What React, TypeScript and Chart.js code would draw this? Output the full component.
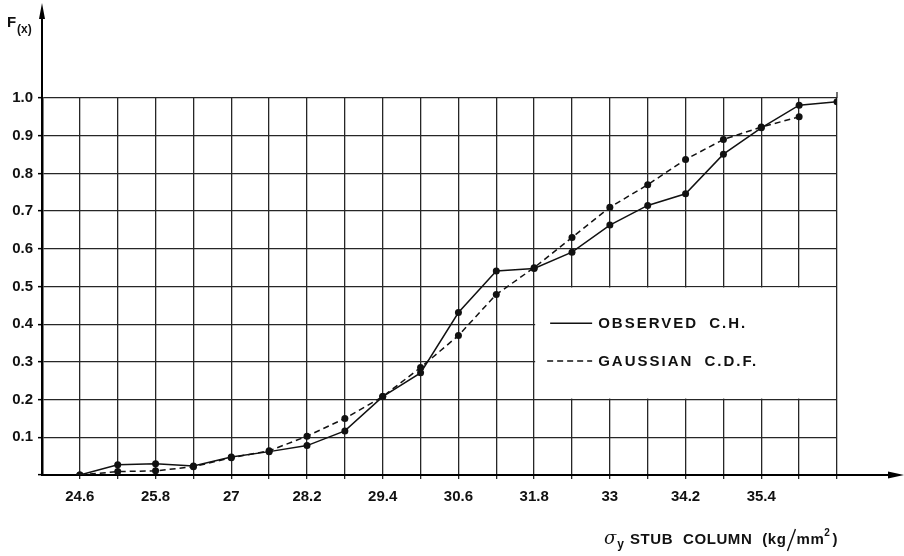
import React, { useEffect, useRef } from 'react';
import { Chart, registerables } from 'chart.js';

Chart.register(...registerables);

// Yield stress of stub columns (kg/mm²), one point per class boundary
const stressValues = [
  24.6, 25.2, 25.8, 26.4, 27.0, 27.6, 28.2, 28.8, 29.4, 30.0, 30.6,
  31.2, 31.8, 32.4, 33.0, 33.6, 34.2, 34.8, 35.4, 36.0, 36.6,
];

// Observed cumulative histogram
const observedCH = [
  0, 0.027, 0.03, 0.024, 0.048, 0.062, 0.078, 0.117, 0.208, 0.271, 0.431,
  0.541, 0.548, 0.591, 0.663, 0.715, 0.746, 0.851, 0.921, 0.981, 0.99,
];

// Fitted Gaussian cumulative distribution
const gaussianCDF = [
  0, 0.009, 0.011, 0.022, 0.046, 0.064, 0.103, 0.15, 0.208, 0.285, 0.37,
  0.479, 0.55, 0.63, 0.71, 0.77, 0.837, 0.89, 0.923, 0.95,
];

const xTickLabels = ['24.6', '25.8', '27', '28.2', '29.4', '30.6', '31.8', '33', '34.2', '35.4'];
const yTickLabels = ['0.1', '0.2', '0.3', '0.4', '0.5', '0.6', '0.7', '0.8', '0.9', '1.0'];
const seriesNames = ['OBSERVED C.H.', 'GAUSSIAN C.D.F.'];

const FONT = '"Liberation Sans", Arial, Helvetica, sans-serif';
const INK = '#111';
const GRID = '#262626';

const matchLabel = (labels: string[], value: number) =>
  labels.find((l) => Math.abs(parseFloat(l) - value) < 1e-6) ?? '';

const draftingPlugin = {
  id: 'drafting',
  beforeDatasetsDraw(chart: any) {
    // white panel that carries the key, cut out of the grid
    const { ctx, scales } = chart;
    const x = scales.x;
    const y = scales.y;
    const l = x.getPixelForValue(31.8) + 1;
    const r = x.getPixelForValue(36.6) - 1;
    const t = y.getPixelForValue(0.5) + 1;
    const b = y.getPixelForValue(0.2) - 1;
    ctx.save();
    ctx.fillStyle = '#fff';
    ctx.fillRect(l, t, r - l, b - t);
    ctx.restore();
  },
  afterDraw(chart: any) {
    const { ctx, chartArea, scales } = chart;
    const x = scales.x;
    const y = scales.y;
    const { left, right, top, bottom } = chartArea;
    ctx.save();

    // extended axes with arrow heads
    ctx.strokeStyle = '#000';
    ctx.fillStyle = '#000';
    ctx.lineWidth = 2;
    ctx.beginPath();
    ctx.moveTo(left, top);
    ctx.lineTo(left, 16);
    ctx.moveTo(right, bottom);
    ctx.lineTo(894, bottom);
    ctx.stroke();
    ctx.beginPath();
    ctx.moveTo(left, 3);
    ctx.lineTo(left - 3, 19);
    ctx.lineTo(left + 3, 19);
    ctx.closePath();
    ctx.fill();
    ctx.beginPath();
    ctx.moveTo(904, bottom);
    ctx.lineTo(888, bottom - 3.5);
    ctx.lineTo(888, bottom + 3.5);
    ctx.closePath();
    ctx.fill();

    // right frame line runs a little above the top line
    ctx.strokeStyle = GRID;
    ctx.lineWidth = 1.3;
    ctx.beginPath();
    ctx.moveTo(right, top);
    ctx.lineTo(right, top - 6);
    ctx.stroke();

    // y-axis name F(x)
    ctx.fillStyle = INK;
    ctx.textBaseline = 'alphabetic';
    ctx.textAlign = 'left';
    ctx.font = `bold 15px ${FONT}`;
    ctx.fillText('F', 7, 27);
    ctx.font = `bold 12px ${FONT}`;
    ctx.fillText('(x)', 17, 33);

    // key
    const kx = x.getPixelForValue(31.8) + 16;
    const ds = chart.data.datasets;
    const rows = [y.getPixelForValue(0.4) - 1, y.getPixelForValue(0.3) - 1];
    ds.forEach((d: any, i: number) => {
      const ry = rows[i];
      ctx.strokeStyle = INK;
      ctx.lineWidth = 1.5;
      ctx.setLineDash(d.borderDash || []);
      ctx.beginPath();
      ctx.moveTo(kx - (i ? 3 : 0), ry);
      ctx.lineTo(kx + 42, ry);
      ctx.stroke();
      ctx.setLineDash([]);
      ctx.font = `bold 15px ${FONT}`;
      (ctx as any).letterSpacing = '2px';
      (ctx as any).wordSpacing = '5px';
      ctx.textBaseline = 'middle';
      ctx.fillText(d.label, kx + 48, ry + 1);
      (ctx as any).letterSpacing = '0px';
      (ctx as any).wordSpacing = '0px';
    });

    // x-axis name: σy STUB COLUMN (kg/mm²)
    const base = 544;
    let cx = 604;
    ctx.textBaseline = 'alphabetic';
    ctx.font = `italic 18px "DejaVu Serif", "Liberation Serif", serif`;
    ctx.fillText('σ', cx, base);
    cx += ctx.measureText('σ').width + 1;
    ctx.font = `bold 12px ${FONT}`;
    ctx.fillText('y', cx, base + 4);
    cx += ctx.measureText('y').width + 6;
    ctx.font = `bold 15px ${FONT}`;
    (ctx as any).letterSpacing = '0.6px';
    (ctx as any).wordSpacing = '5px';
    const main = 'STUB COLUMN (kg';
    ctx.fillText(main, cx, base);
    cx += ctx.measureText(main).width;
    (ctx as any).letterSpacing = '0px';
    (ctx as any).wordSpacing = '0px';
    ctx.lineWidth = 1.4;
    ctx.strokeStyle = INK;
    ctx.beginPath();
    ctx.moveTo(cx + 1, base + 7);
    ctx.lineTo(cx + 9, base - 15);
    ctx.stroke();
    cx += 10;
    (ctx as any).letterSpacing = '0.6px';
    ctx.fillText('mm', cx, base);
    cx += ctx.measureText('mm').width;
    ctx.font = `bold 10px ${FONT}`;
    ctx.fillText('2', cx, base - 8);
    cx += ctx.measureText('2').width + 2;
    ctx.font = `bold 15px ${FONT}`;
    ctx.fillText(')', cx, base);
    (ctx as any).letterSpacing = '0px';

    ctx.restore();
  },
};

export default function App() {
  const canvasRef = useRef<HTMLCanvasElement | null>(null);

  useEffect(() => {
    const canvas = canvasRef.current;
    if (!canvas) return;

    const chart = new Chart(canvas, {
      type: 'line',
      data: {
        datasets: [
          {
            label: seriesNames[0],
            data: observedCH.map((v, i) => ({ x: stressValues[i], y: v })),
            borderColor: INK,
            backgroundColor: INK,
            borderWidth: 1.5,
            pointRadius: 3.5,
            pointBackgroundColor: INK,
            pointBorderWidth: 0,
            tension: 0,
          },
          {
            label: seriesNames[1],
            data: gaussianCDF.map((v, i) => ({ x: stressValues[i], y: v })),
            borderColor: INK,
            backgroundColor: INK,
            borderWidth: 1.5,
            borderDash: [6, 4],
            pointRadius: 3.5,
            pointBackgroundColor: INK,
            pointBorderWidth: 0,
            tension: 0,
          },
        ],
      },
      options: {
        responsive: false,
        animation: false,
        layout: { padding: { top: 98, right: 67, left: 0, bottom: 0 } },
        plugins: {
          legend: { display: false },
          tooltip: { enabled: false },
        },
        scales: {
          x: {
            type: 'linear',
            min: 24.0,
            max: 36.6,
            afterBuildTicks: (s: any) => {
              s.ticks = stressValues.map((v) => ({ value: v }));
            },
            afterFit: (s: any) => {
              s.height = 81;
            },
            grid: { color: GRID, lineWidth: 1.3, tickLength: 4, tickColor: GRID, tickWidth: 1.3 },
            border: { display: true, color: '#000', width: 2 },
            ticks: {
              autoSkip: false,
              maxRotation: 0,
              padding: 9,
              color: INK,
              font: { family: FONT, size: 15, weight: 'bold' },
              callback: (v: any) => matchLabel(xTickLabels, Number(v)),
            },
          },
          y: {
            type: 'linear',
            min: 0,
            max: 1,
            afterBuildTicks: (s: any) => {
              s.ticks = [0, ...yTickLabels.map(Number)].map((v) => ({ value: v }));
            },
            afterFit: (s: any) => {
              s.width = 42;
            },
            grid: { color: GRID, lineWidth: 1.3, tickLength: 4, tickColor: '#000', tickWidth: 1.5 },
            border: { display: true, color: '#000', width: 2.5 },
            ticks: {
              autoSkip: false,
              padding: 5,
              color: INK,
              font: { family: FONT, size: 15, weight: 'bold' },
              callback: (v: any) => matchLabel(yTickLabels, Number(v)),
            },
          },
        },
      } as any,
      plugins: [draftingPlugin],
    });

    return () => chart.destroy();
  }, []);

  return (
    <div style={{ position: 'fixed', left: 0, top: 0, width: 904, height: 556, background: '#fff' }}>
      <canvas ref={canvasRef} width={904} height={556} style={{ display: 'block' }} />
    </div>
  );
}
